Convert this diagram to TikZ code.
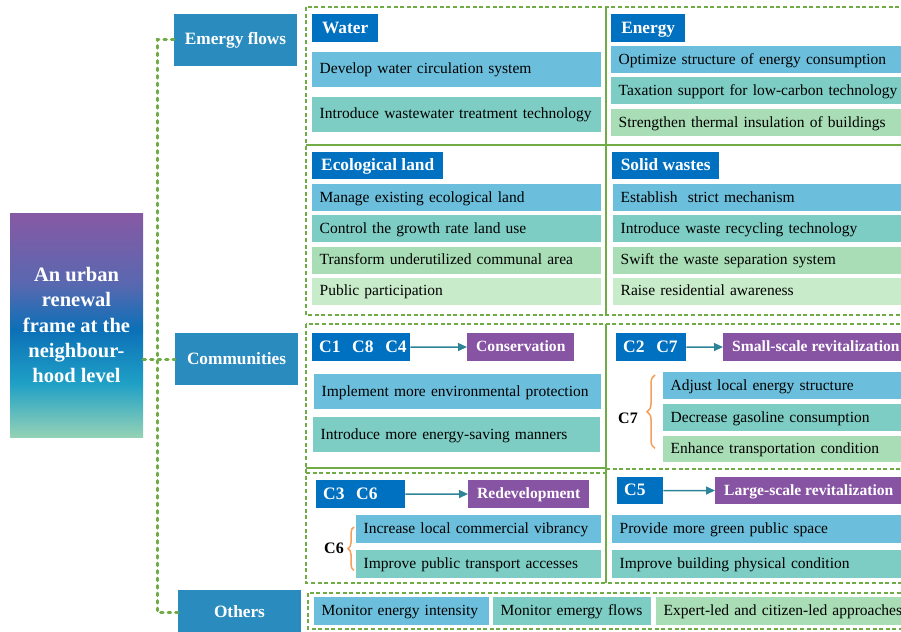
\documentclass[tikz,border=0pt]{standalone}
\usepackage{fontspec}
\setmainfont{Liberation Serif}
\usepackage{tikz}
\usetikzlibrary{arrows.meta,decorations.pathreplacing,positioning}
\definecolor{ufCat}{HTML}{2A8CBE}
\definecolor{ufTitle}{HTML}{0070C0}
\definecolor{ufSky}{HTML}{6CBFDC}
\definecolor{ufTeal}{HTML}{7DCDC4}
\definecolor{ufMint}{HTML}{A8DDB5}
\definecolor{ufPale}{HTML}{C8EBCA}
\definecolor{ufPurple}{HTML}{8753A3}
\definecolor{ufArrow}{HTML}{2E8497}
\definecolor{ufGreen}{HTML}{6FAC46}
\definecolor{ufOrange}{HTML}{F5A05A}
\definecolor{ufRootTop}{HTML}{8759A4}
\definecolor{ufRootViolet}{HTML}{5868B0}
\definecolor{ufRootBlue}{HTML}{0C70B7}
\definecolor{ufRootTeal}{HTML}{1FA0C6}
\definecolor{ufRootLo}{HTML}{94D2B6}
\pgfdeclareverticalshading{ufroot}{100bp}{color(0bp)=(ufRootLo); color(25bp)=(ufRootLo);
  color(37bp)=(ufRootTeal); color(49bp)=(ufRootBlue); color(59bp)=(ufRootViolet);
  color(75bp)=(ufRootTop); color(100bp)=(ufRootTop)}
\tikzset{
  uf root/.style={shading=ufroot, text=white, align=center, minimum width=133pt,
    minimum height=224pt, inner sep=0pt, font=\bfseries\fontsize{20.5}{25.3}\selectfont},
  uf cat/.style={fill=ufCat, text=white, minimum width=123pt, minimum height=52pt,
    inner sep=0pt, font=\bfseries\fontsize{17.3}{20}\selectfont},
  uf title/.style={fill=ufTitle, text=white, anchor=north west, inner sep=0pt,
    minimum height=28pt, text height=13pt, text depth=3pt,
    font=\bfseries\fontsize{17.3}{20}\selectfont},
  uf case/.style={uf title, inner xsep=7pt, text width=#1, align=left,
    font=\bfseries\fontsize{17.5}{20}\selectfont},
  uf mode/.style={fill=ufPurple, text=white, anchor=west, inner xsep=9pt, inner ysep=0pt,
    minimum height=28pt, text height=12pt, text depth=3pt,
    font=\bfseries\fontsize{15.6}{18}\selectfont},
  uf item/.style={anchor=north west, inner xsep=7.5pt, inner ysep=0pt, text width=#1,
    align=left, text height=11.5pt, text depth=2.5pt, font=\fontsize{15.5}{18}\selectfont},
  uf brlab/.style={font=\bfseries\fontsize{16}{18}\selectfont, inner sep=0pt},
  uf link/.style={draw=ufGreen, line width=3pt, line cap=round, dash pattern=on 2.5pt off 5pt},
  uf frame/.style={draw=ufGreen, line width=2.2pt, dash pattern=on 4pt off 2.6pt},
  uf rule/.style={draw=ufGreen, line width=1.8pt},
  uf arrow/.style={-{Triangle[length=9pt,width=8pt]}, draw=ufArrow, line width=1.5pt},
  uf brace/.style={decorate, decoration={brace,amplitude=#1}, draw=ufOrange, line width=1.5pt}
}
\begin{document}
\begin{tikzpicture}[x=1pt,y=-1pt]
\useasboundingbox (0,0) rectangle (901,631);
\clip (0,0) rectangle (901,631);
\node[uf root] (root) at (76.5,325) {An urban\\renewal\\frame at the\\neighbour-\\hood level};
\node[uf cat] (ef) at (235.5,40) {Emergy flows};
\node[uf cat] (cm) at (236.5,359) {Communities};
\node[uf cat, minimum height=44pt] (ot) at (239.5,612) {Others};
\coordinate (trunk) at (157,40);
\draw[uf link] (ef.west) -- (trunk) -- (trunk |- ot.west) -- (ot.west);
\draw[uf link] (root.east |- cm.west) -- (cm.west);

\draw[uf frame] (306,7) rectangle (915,315);
\draw[uf rule] (606,7) -- (606,315);
\draw[uf rule] (306,145) -- (915,145);
\draw[uf frame] (306,324) rectangle (915,583);
\draw[uf rule] (606,324) -- (606,583);
\draw[uf rule] (306,468) -- (606,468);
\draw[uf frame] (306,473) -- (606,473);
\draw[uf frame] (606,469) -- (915,469);
\draw[uf frame] (308,593) rectangle (915,629);

\node[uf title, minimum width=66pt] (wa) at (312,14) {Water};
\node[uf item=274pt, fill=ufSky, minimum height=34.5pt] (wa1) at (312,52) {Develop water circulation system};
\node[uf item=274pt, fill=ufTeal, minimum height=34.5pt] (wa2) at (312,97) {Introduce wastewater treatment technology};

\node[uf title, minimum width=74pt] (en) at (611,14) {Energy};
\node[uf item=290pt, fill=ufSky, minimum height=27pt] (en1) at (611,46) {Optimize structure of energy consumption};
\node[uf item=290pt, fill=ufTeal, minimum height=27pt] (en2) at (611,77) {Taxation support for low-carbon technology};
\node[uf item=290pt, fill=ufMint, minimum height=27pt] (en3) at (611,109) {Strengthen thermal insulation of buildings};

\node[uf title, minimum width=131pt, minimum height=27pt] (el) at (312,152) {Ecological land};
\node[uf item=274pt, fill=ufSky, minimum height=27pt] (el1) at (312,184) {Manage existing ecological land};
\node[uf item=274pt, fill=ufTeal, minimum height=27pt] (el2) at (312,215) {Control the growth rate land use};
\node[uf item=274pt, fill=ufMint, minimum height=26.5pt] (el3) at (312,247) {Transform underutilized communal area};
\node[uf item=274pt, fill=ufPale, minimum height=26.5pt] (el4) at (312,278) {Public participation};

\node[uf title, minimum width=107pt, minimum height=27pt] (sw) at (612,152) {Solid wastes};
\node[uf item=290pt, fill=ufSky, minimum height=27pt] (sw1) at (613,184) {Establish~ strict mechanism};
\node[uf item=290pt, fill=ufTeal, minimum height=27pt] (sw2) at (613,215) {Introduce waste recycling technology};
\node[uf item=290pt, fill=ufMint, minimum height=26.5pt] (sw3) at (613,247) {Swift the waste separation system};
\node[uf item=290pt, fill=ufPale, minimum height=26.5pt] (sw4) at (613,278) {Raise residential awareness};

\node[uf case=84pt] (cs) at (312,333) {C1~~C8~~C4};
\node[uf mode] (cv) at (467,347) {Conservation};
\draw[uf arrow] (cs.east) -- (cv.west);
\node[uf item=272pt, fill=ufSky, minimum height=35pt] (cs1) at (314,374) {Implement more environmental protection};
\node[uf item=272pt, fill=ufTeal, minimum height=35pt] (cs2) at (313,417) {Introduce more energy-saving manners};

\node[uf case=56pt] (ss) at (616,333) {C2~~C7};
\node[uf mode] (sr) at (723,347) {Small-scale revitalization};
\draw[uf arrow] (ss.east) -- (sr.west);
\node[uf item=250pt, fill=ufSky, minimum height=27pt] (ss1) at (663,372) {Adjust local energy structure};
\node[uf item=250pt, fill=ufTeal, minimum height=27pt] (ss2) at (663,404) {Decrease gasoline consumption};
\node[uf item=250pt, fill=ufMint, minimum height=26pt] (ss3) at (663,436) {Enhance transportation condition};
\draw[uf brace=8pt] ([xshift=-8pt,yshift=14pt]ss3.south west) -- ([xshift=-8pt,yshift=-3pt]ss1.north west);
\node[uf brlab] (c7) at (628,418) {C7};

\node[uf case=75pt] (rd) at (316,480) {C3~~C6};
\node[uf mode] (rv) at (468,494) {Redevelopment};
\draw[uf arrow] (rd.east) -- (rv.west);
\node[uf item=230pt, fill=ufSky, minimum height=28pt] (rd1) at (356,515) {Increase local commercial vibrancy};
\node[uf item=230pt, fill=ufTeal, minimum height=28pt] (rd2) at (356,550) {Improve public transport accesses};
\draw[uf brace=6pt] ([xshift=-2pt,yshift=8pt]rd2.south west) -- ([xshift=-2pt,yshift=-12pt]rd1.north west);
\node[uf brlab] (c6) at (334,548) {C6};

\node[uf case=32pt, minimum height=27pt] (ls) at (617,477) {C5};
\node[uf mode, minimum height=27pt] (lr) at (715,490.5) {Large-scale revitalization};
\draw[uf arrow] (ls.east) -- (lr.west);
\node[uf item=290pt, fill=ufSky, minimum height=28pt] (ls1) at (612,515) {Provide more green public space};
\node[uf item=290pt, fill=ufTeal, minimum height=28pt] (ls2) at (612,550) {Improve building physical condition};

\node[uf item=160pt, fill=ufSky, minimum height=28pt] (ot1) at (314,597) {Monitor energy intensity};
\node[uf item=143pt, fill=ufTeal, minimum height=28pt] (ot2) at (493,597) {Monitor emergy flows};
\node[uf item=290pt, fill=ufMint, minimum height=28pt] (ot3) at (656,597) {Expert-led and citizen-led approaches};
\end{tikzpicture}
\end{document}
